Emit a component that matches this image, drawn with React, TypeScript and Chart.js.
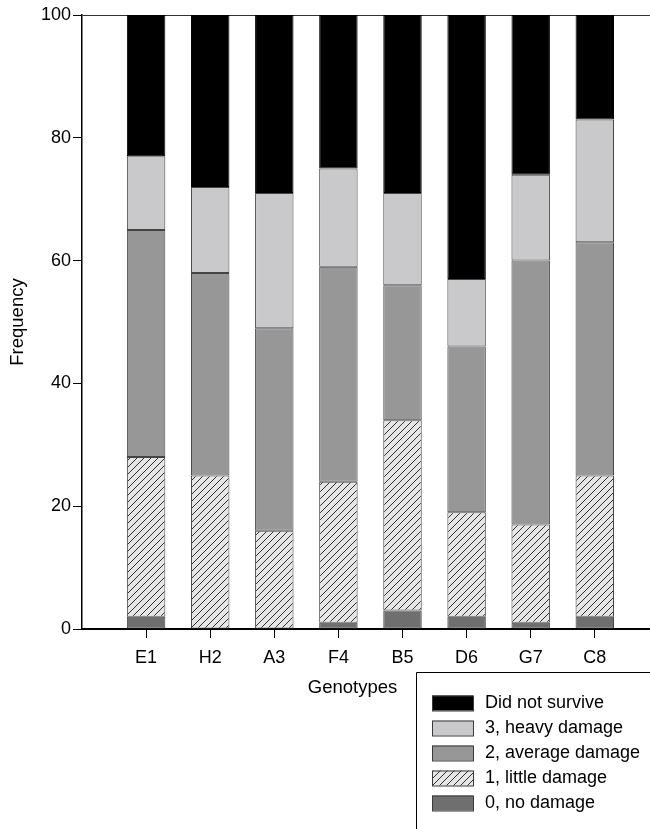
import React, { useEffect, useRef } from 'react';
import { Chart, registerables } from 'chart.js';

Chart.register(...registerables);

const categories = ['E1', 'H2', 'A3', 'F4', 'B5', 'D6', 'G7', 'C8'];
const noDamage = [2, 0, 0, 1, 3, 2, 1, 2];
const littleDamage = [26, 25, 16, 23, 31, 17, 16, 23];
const averageDamage = [37, 33, 33, 35, 22, 27, 43, 38];
const heavyDamage = [12, 14, 22, 16, 15, 11, 14, 20];
const didNotSurvive = [23, 28, 29, 25, 29, 43, 26, 17];
const seriesNames = ['0, no damage', '1, little damage', '2, average damage', '3, heavy damage', 'Did not survive'];
const seriesValues = [noDamage, littleDamage, averageDamage, heavyDamage, didNotSurvive];
const yMin = 0;
const yMax = 100;
const yStep = 20;

const FONT = "'Liberation Sans', Arial, Helvetica, sans-serif";

function makeHatch(): CanvasPattern | string {
  const s = 7;
  const c = document.createElement('canvas');
  c.width = s;
  c.height = s;
  const g = c.getContext('2d');
  if (!g) return '#e4e4e4';
  g.fillStyle = '#e6e6e6';
  g.fillRect(0, 0, s, s);
  g.strokeStyle = '#1a1a1a';
  g.lineWidth = 0.9;
  g.beginPath();
  g.moveTo(-1, s + 1);
  g.lineTo(s + 1, -1);
  g.moveTo(-1, 1);
  g.lineTo(1, -1);
  g.moveTo(s - 1, s + 1);
  g.lineTo(s + 1, s - 1);
  g.stroke();
  return g.createPattern(c, 'repeat') || '#e4e4e4';
}

// extends the bottom axis line and the top frame line to the right edge of the canvas
const extendFrame = {
  id: 'extendFrame',
  afterDraw(chart: any) {
    const { ctx, chartArea } = chart;
    ctx.save();
    ctx.strokeStyle = '#000';
    ctx.lineWidth = 2;
    ctx.beginPath();
    ctx.moveTo(chartArea.right - 1, chartArea.bottom);
    ctx.lineTo(chart.width, chartArea.bottom);
    ctx.stroke();
    ctx.strokeStyle = '#333';
    ctx.lineWidth = 1;
    ctx.beginPath();
    ctx.moveTo(chartArea.right - 1, chartArea.top + 0.5);
    ctx.lineTo(chart.width, chartArea.top + 0.5);
    ctx.stroke();
    ctx.restore();
  },
};

const boxLegend = {
  id: 'boxLegend',
  afterDraw(chart: any, _args: any, opts: any) {
    const ctx = chart.ctx as CanvasRenderingContext2D;
    const { left, top, rowStart, rowGap, swatchX, swatchW, swatchH, textX, fontSize } = opts;
    ctx.save();
    ctx.strokeStyle = '#000';
    ctx.lineWidth = 1;
    ctx.beginPath();
    ctx.moveTo(left + 0.5, chart.height);
    ctx.lineTo(left + 0.5, top + 0.5);
    ctx.lineTo(chart.width, top + 0.5);
    ctx.stroke();
    const ds = chart.data.datasets.slice().reverse();
    ctx.font = `${fontSize}px ${FONT}`;
    ctx.textBaseline = 'middle';
    ctx.textAlign = 'left';
    ds.forEach((d: any, i: number) => {
      const cy = rowStart + i * rowGap;
      ctx.fillStyle = d.backgroundColor;
      ctx.fillRect(swatchX, cy - swatchH / 2, swatchW, swatchH);
      ctx.strokeStyle = '#3a3a3a';
      ctx.lineWidth = 1;
      ctx.strokeRect(swatchX + 0.5, cy - swatchH / 2 + 0.5, swatchW, swatchH);
      ctx.fillStyle = '#000';
      ctx.fillText(d.label, textX, cy);
    });
    ctx.restore();
  },
};

export default function App() {
  const ref = useRef<HTMLCanvasElement | null>(null);

  useEffect(() => {
    document.body.style.margin = '0';
    const canvas = ref.current;
    if (!canvas) return;
    const hatch = makeHatch();
    const colors: any[] = ['#6f6f6f', hatch, '#979797', '#c9c9cb', '#000000'];
    const borders = ['#444', '#444', '#444', '#444', '#000'];

    const chart = new Chart(canvas, {
      type: 'bar',
      data: {
        datasets: seriesValues.map((vals, si) => ({
          label: seriesNames[si],
          data: vals.map((v, i) => ({ x: i, y: v })),
          backgroundColor: colors[si],
          borderColor: borders[si],
          borderWidth: 1,
          borderSkipped: false,
          barPercentage: 0.6,
          categoryPercentage: 1,
        })),
      },
      options: {
        responsive: false,
        animation: false,
        layout: { padding: { top: 15, right: 27, bottom: 130, left: 0 } },
        plugins: {
          legend: { display: false },
          tooltip: { enabled: false },
          boxLegend: {
            left: 416,
            top: 672,
            rowStart: 703,
            rowGap: 25,
            swatchX: 432,
            swatchW: 41,
            swatchH: 15,
            textX: 485,
            fontSize: 18,
          },
        } as any,
        scales: {
          x: {
            type: 'linear',
            stacked: true,
            offset: false,
            min: -1,
            max: 7.44,
            afterBuildTicks: (scale: any) => {
              scale.ticks = categories.map((_, i) => ({ value: i }));
            },
            afterFit: (scale: any) => {
              scale.height = 70;
            },
            ticks: {
              autoSkip: false,
              maxRotation: 0,
              padding: 9,
              color: '#000',
              font: { size: 18, family: FONT },
              callback: (v: any) => categories[v] ?? '',
            },
            grid: {
              offset: false,
              drawOnChartArea: false,
              drawTicks: true,
              tickLength: 9,
              tickColor: '#000',
              tickWidth: 1,
            },
            border: { display: true, color: '#000', width: 2 },
            title: {
              display: true,
              text: 'Genotypes',
              color: '#000',
              font: { size: 18.5, family: FONT },
              padding: { top: 0, bottom: 0 },
            },
          },
          y: {
            type: 'linear',
            stacked: true,
            min: yMin,
            max: yMax,
            afterFit: (scale: any) => {
              scale.width = 82;
            },
            ticks: {
              stepSize: yStep,
              padding: 2,
              color: '#000',
              font: { size: 18, family: FONT },
            },
            grid: {
              drawOnChartArea: true,
              color: (c: any) => (c.tick && c.tick.value === yMax ? '#333' : 'rgba(0,0,0,0)'),
              lineWidth: 1,
              drawTicks: true,
              tickLength: 9,
              tickColor: '#000',
              tickWidth: 1,
            },
            border: { display: true, color: '#000', width: 1.5 },
            title: {
              display: true,
              text: 'Frequency',
              color: '#000',
              font: { size: 18.5, family: FONT },
              padding: { top: 7, bottom: 0 },
            },
          },
        },
      },
      plugins: [extendFrame, boxLegend],
    });
    return () => chart.destroy();
  }, []);

  return (
    <div style={{ width: 650, height: 829 }}>
      <canvas ref={ref} width={650} height={829} />
    </div>
  );
}
